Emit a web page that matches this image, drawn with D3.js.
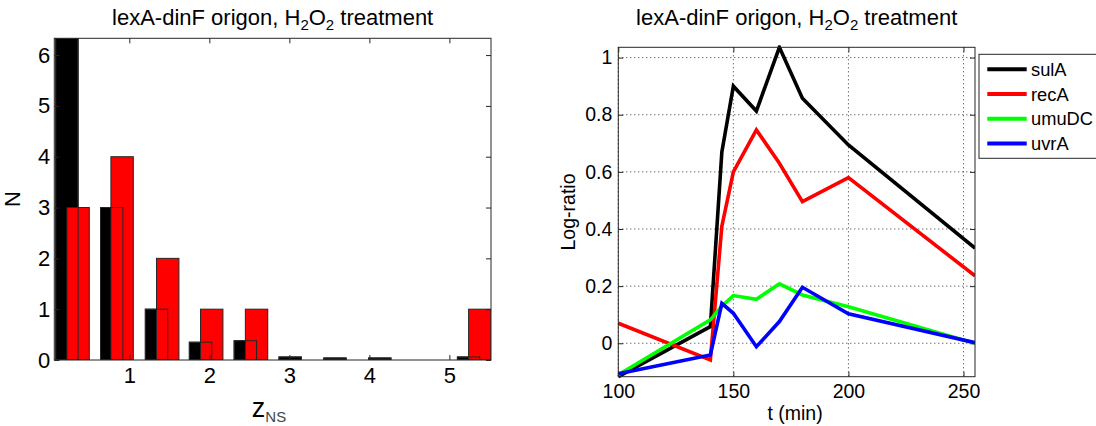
<!DOCTYPE html>
<html><head><meta charset="utf-8">
<script src="https://cdn.jsdelivr.net/npm/d3@7"></script>
<style>
body{margin:0;background:#fff;}
svg{display:block;font-family:Arial,"Liberation Sans",sans-serif;}
</style></head><body>
<svg id="chart" width="1096" height="426"></svg>
<script>
// Histogram of z_NS (left panel)
const histTicksX = [1, 2, 3, 4, 5];
const histTicksY = [0, 1, 2, 3, 4, 5, 6];
const blackBins = [0.22, 0.78, 1.34, 1.89, 2.45, 3.01, 3.57, 4.13, 4.69, 5.24];
const blackCounts = [6.6, 3, 1, 0.35, 0.38, 0.06, 0.04, 0.04, 0, 0.06];
const redBins = [0.36, 0.91, 1.48, 2.03, 2.59, 3.15, 3.71, 4.27, 4.83, 5.38];
const redCounts = [3, 4, 2, 1, 1, 0, 0, 0, 0, 1];

// Time courses of SOS genes (right panel)
const times = [100, 140, 145, 150, 160, 170, 180, 200, 255];
const sulA  = [-0.117, 0.058, 0.67, 0.90, 0.813, 1.036, 0.858, 0.694, 0.333];
const recA  = [0.07, -0.058, 0.41, 0.60, 0.747, 0.63, 0.496, 0.58, 0.236];
const umuDC = [-0.11, 0.082, 0.13, 0.167, 0.154, 0.208, 0.169, 0.128, 0.0];
const uvrA  = [-0.107, -0.041, 0.14, 0.105, -0.012, 0.076, 0.196, 0.103, 0.002];
const geneNames = ["sulA", "recA", "umuDC", "uvrA"];
const geneColors = ["#000000", "#ff0000", "#00ff00", "#0000ff"];
const timeTicks = [100, 150, 200, 250];
const ratioTicks = [0, 0.2, 0.4, 0.6, 0.8, 1];

const svg = d3.select("#chart");
const AX = "#262626";

function title(g, cx) {
  const t = g.append("text").attr("x", cx).attr("y", 25)
    .attr("text-anchor", "middle").attr("font-size", 22).attr("fill", "#000");
  t.append("tspan").text("lexA-dinF origon, H");
  t.append("tspan").attr("dy", 5).attr("font-size", 15).text("2");
  t.append("tspan").attr("dy", -5).text("O");
  t.append("tspan").attr("dy", 5).attr("font-size", 15).text("2");
  t.append("tspan").attr("dy", -5).text(" treatment");
}

function styleAxis(sel, size) {
  sel.select(".domain").remove();
  sel.selectAll(".tick line").attr("stroke", AX);
  sel.selectAll(".tick text").attr("fill", "#000").attr("font-size", size)
    .attr("font-family", "Arial, 'Liberation Sans', sans-serif");
}

// ---------- Left panel: histogram ----------
{
  const L = {l: 54.3, r: 491, t: 38.3, b: 360};
  const x = d3.scaleLinear([0.0625, 5.52], [L.l, L.r]);
  const y = d3.scaleLinear([0, 6.33], [L.b, L.t]);
  const binW = 0.28;
  const g = svg.append("g");

  svg.append("clipPath").attr("id", "clipL").append("rect")
    .attr("x", L.l).attr("y", L.t).attr("width", L.r - L.l).attr("height", L.b - L.t);
  const bars = g.append("g").attr("clip-path", "url(#clipL)");

  const blackData = blackBins.map((c, i) => ({c, v: blackCounts[i]})).filter(d => d.v > 0);
  const redData = redBins.map((c, i) => ({c, v: redCounts[i]})).filter(d => d.v > 0);

  const rectAttrs = sel => sel
    .attr("x", d => x(d.c - binW / 2))
    .attr("width", d => x(d.c + binW / 2) - x(d.c - binW / 2))
    .attr("y", d => y(d.v))
    .attr("height", d => y(0) - y(d.v));

  bars.selectAll(".bk").data(blackData).join("rect").attr("class", "bk")
    .call(rectAttrs).attr("fill", "#000").attr("stroke", AX).attr("stroke-width", 1);
  bars.selectAll(".rd").data(redData).join("rect").attr("class", "rd")
    .call(rectAttrs).attr("fill", "#ff0000").attr("stroke", AX).attr("stroke-width", 1);
  // black bar edges stay visible over the red faces
  bars.selectAll(".bkEdge").data(blackData).join("rect").attr("class", "bkEdge")
    .call(rectAttrs).attr("fill", "none").attr("stroke", AX).attr("stroke-width", 1);

  const ax = d3.axisBottom(x).tickValues(histTicksX).tickFormat(d3.format("d"))
    .tickSizeInner(-5).tickSizeOuter(0).tickPadding(7);
  g.append("g").attr("transform", `translate(0,${L.b})`).call(ax).call(s => styleAxis(s, 22));
  g.append("g").attr("transform", `translate(0,${L.t})`)
    .call(d3.axisTop(x).tickValues(histTicksX).tickSizeInner(-5).tickSizeOuter(0).tickFormat(""))
    .call(s => styleAxis(s, 22));
  g.append("g").attr("transform", `translate(${L.l},0)`)
    .call(d3.axisLeft(y).tickValues(histTicksY).tickFormat(d3.format("d"))
      .tickSizeInner(-5).tickSizeOuter(0).tickPadding(4))
    .call(s => styleAxis(s, 22));
  g.append("g").attr("transform", `translate(${L.r},0)`)
    .call(d3.axisRight(y).tickValues(histTicksY).tickSizeInner(-5).tickSizeOuter(0).tickFormat(""))
    .call(s => styleAxis(s, 22));
  g.append("rect").attr("x", L.l).attr("y", L.t).attr("width", L.r - L.l).attr("height", L.b - L.t)
    .attr("fill", "none").attr("stroke", AX).attr("stroke-width", 1);

  title(g, (L.l + L.r) / 2);

  g.append("text").attr("transform", `translate(20,199) rotate(-90)`)
    .attr("text-anchor", "middle").attr("font-size", 22).text("N");

  const xl = g.append("text").attr("x", 269).attr("y", 417).attr("text-anchor", "middle");
  xl.append("tspan").attr("font-size", 27).text("z");
  xl.append("tspan").attr("dy", 5).attr("font-size", 15).attr("fill", "#444").text("NS");
}

// ---------- Right panel: time courses ----------
{
  const R = {l: 618.3, r: 975, t: 47.3, b: 376.7};
  const x = d3.scaleLinear([100, 255], [R.l, R.r]);
  const y = d3.scaleLinear([-0.117, 1.036], [R.b, R.t]);
  const g = svg.append("g");

  // dotted grid
  g.append("g").selectAll("line").data(timeTicks).join("line")
    .attr("x1", d => x(d)).attr("x2", d => x(d)).attr("y1", R.t).attr("y2", R.b)
    .attr("stroke", "#333").attr("stroke-dasharray", "1,3");
  g.append("g").selectAll("line").data(ratioTicks).join("line")
    .attr("x1", R.l).attr("x2", R.r).attr("y1", d => y(d)).attr("y2", d => y(d))
    .attr("stroke", "#333").attr("stroke-dasharray", "1,3");

  g.append("g").attr("transform", `translate(0,${R.b})`)
    .call(d3.axisBottom(x).tickValues(timeTicks).tickFormat(d3.format("d"))
      .tickSizeInner(-5).tickSizeOuter(0).tickPadding(7))
    .call(s => styleAxis(s, 19.5));
  g.append("g").attr("transform", `translate(0,${R.t})`)
    .call(d3.axisTop(x).tickValues(timeTicks).tickSizeInner(-5).tickSizeOuter(0).tickFormat(""))
    .call(s => styleAxis(s, 19.5));
  g.append("g").attr("transform", `translate(${R.l},0)`)
    .call(d3.axisLeft(y).tickValues(ratioTicks).tickFormat(d => d === 0 ? "0" : d === 1 ? "1" : d3.format(".1f")(d))
      .tickSizeInner(-5).tickSizeOuter(0).tickPadding(6))
    .call(s => styleAxis(s, 19.5));
  g.append("g").attr("transform", `translate(${R.r},0)`)
    .call(d3.axisRight(y).tickValues(ratioTicks).tickSizeInner(-5).tickSizeOuter(0).tickFormat(""))
    .call(s => styleAxis(s, 19.5));

  svg.append("clipPath").attr("id", "clipR").append("rect")
    .attr("x", R.l - 2).attr("y", R.t - 2).attr("width", R.r - R.l + 2).attr("height", R.b - R.t + 4);

  const series = [sulA, recA, umuDC, uvrA];
  const line = d3.line().x((d, i) => x(times[i])).y(d => y(d));
  g.append("g").attr("clip-path", "url(#clipR)").selectAll("path").data(series).join("path")
    .attr("d", d => line(d)).attr("fill", "none")
    .attr("stroke", (d, i) => geneColors[i]).attr("stroke-width", 3.6)
    .attr("stroke-linejoin", "miter").attr("stroke-miterlimit", 4);

  g.append("rect").attr("x", R.l).attr("y", R.t).attr("width", R.r - R.l).attr("height", R.b - R.t)
    .attr("fill", "none").attr("stroke", AX).attr("stroke-width", 1);

  title(g, 796.7);

  g.append("text").attr("x", 795).attr("y", 420).attr("text-anchor", "middle")
    .attr("font-size", 19.5).text("t (min)");
  g.append("text").attr("transform", `translate(575,212) rotate(-90)`)
    .attr("text-anchor", "middle").attr("font-size", 19.5).text("Log-ratio");

  // legend
  const lg = g.append("g");
  lg.append("rect").attr("x", 979).attr("y", 54.3).attr("width", 140).attr("height", 104)
    .attr("fill", "#fff").attr("stroke", AX).attr("stroke-width", 1);
  const items = lg.selectAll("g.item").data(geneNames).join("g").attr("class", "item")
    .attr("transform", (d, i) => `translate(0,${69.3 + i * 24.7})`);
  items.append("line").attr("x1", 987.3).attr("x2", 1026.7)
    .attr("stroke", (d, i) => geneColors[i]).attr("stroke-width", 4);
  items.append("text").attr("x", 1031).attr("dy", "0.36em").attr("font-size", 18.3).text(d => d);
}
</script>
</body></html>
